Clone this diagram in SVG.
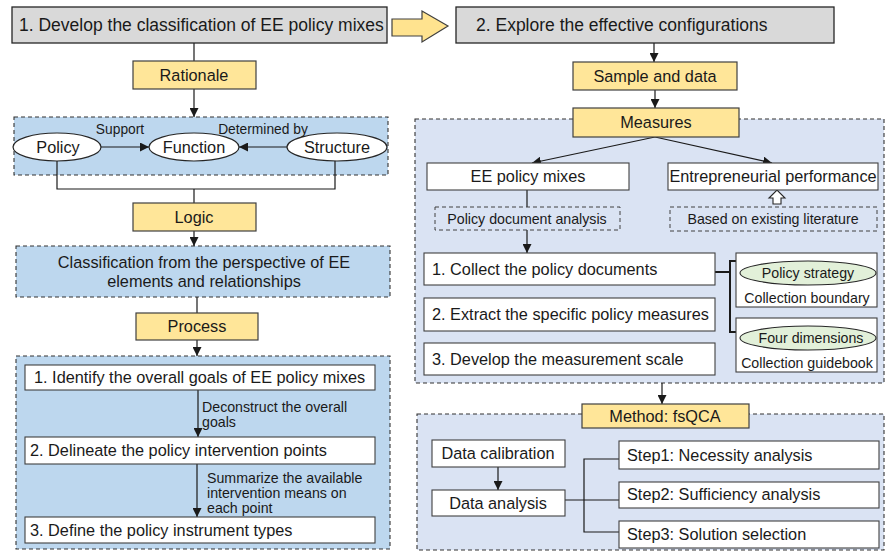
<svg xmlns="http://www.w3.org/2000/svg" width="889" height="552" viewBox="0 0 889 552">
  <defs>
    <style>
      text { font-family: "Liberation Sans", Arial, sans-serif; fill: #1a1a1a; }
      .t17 { font-size: 17.5px; }
      .t16 { font-size: 16.3px; }
      .t14 { font-size: 14.2px; }
      .t13 { font-size: 13.8px; }
      .mid { text-anchor: middle; }
      .gray { fill: #d9d9d9; stroke: #262626; stroke-width: 1.3; }
      .yel { fill: #ffe699; stroke: #404040; stroke-width: 1.2; }
      .white { fill: #ffffff; stroke: #404040; stroke-width: 1.1; }
      .zoneL { fill: #bdd7ee; stroke: #333; stroke-width: 1.1; stroke-dasharray: 4 3; }
      .zoneR { fill: #dae3f3; stroke: #333; stroke-width: 1.1; stroke-dasharray: 4 3; }
      .dash { fill: none; stroke: #404040; stroke-width: 1; stroke-dasharray: 4 3; }
      .ell { fill: #ffffff; stroke: #262626; stroke-width: 1.2; }
      .gell { fill: #e2f0d9; stroke: #262626; stroke-width: 1.1; }
      .ln { fill: none; stroke: #1a1a1a; stroke-width: 1.2; }
      .lnb { fill: none; stroke: #1a1a1a; stroke-width: 2; }
      .arr { fill: none; stroke: #1a1a1a; stroke-width: 1.2; marker-end: url(#ah); }
    </style>
    <marker id="ah" viewBox="0 0 10 10" refX="10" refY="5" markerWidth="9" markerHeight="9" markerUnits="userSpaceOnUse" orient="auto">
      <path d="M0,0 L10,5 L0,10 z" fill="#1a1a1a"/>
    </marker>
  </defs>

  <!-- background zones -->
  <g id="zone-rationale"><rect class="zoneL" x="14" y="117" width="374" height="58"/></g>
  <g id="zone-logic"><rect class="zoneL" x="16" y="246" width="374" height="51"/>
    <text class="t16 mid" x="204" y="268">Classification from the perspective of EE</text>
    <text class="t16 mid" x="204" y="287">elements and relationships</text>
  </g>
  <g id="zone-process"><rect class="zoneL" x="16" y="356" width="374" height="193"/></g>
  <g id="zone-measures"><rect class="zoneR" x="415" y="119" width="469" height="264"/></g>
  <g id="zone-method"><rect class="zoneR" x="417" y="414" width="467" height="136"/></g>

  <!-- connectors -->
  <g id="connectors">
    <line class="ln" x1="194" y1="43" x2="194" y2="61"/>
    <line class="arr" x1="194" y1="89" x2="194" y2="117"/>
    <line class="arr" x1="101" y1="147" x2="149" y2="147"/>
    <line class="arr" x1="287" y1="147" x2="239" y2="147"/>
    <polyline class="ln" points="57,161 57,189 335,189 335,161"/>
    <line class="ln" x1="194" y1="189" x2="194" y2="203"/>
    <line class="arr" x1="194" y1="231" x2="194" y2="246"/>
    <line class="ln" x1="197" y1="297" x2="197" y2="313"/>
    <line class="arr" x1="197" y1="340" x2="197" y2="356"/>
    <line class="arr" x1="198" y1="390" x2="198" y2="437"/>
    <line class="arr" x1="197" y1="464" x2="197" y2="517"/>

    <line class="arr" x1="654" y1="43" x2="654" y2="62"/>
    <line class="arr" x1="655" y1="90" x2="655" y2="108"/>
    <line class="arr" x1="655" y1="137" x2="532" y2="163"/>
    <line class="arr" x1="655" y1="137" x2="772" y2="163"/>
    <line class="ln" x1="527" y1="190" x2="527" y2="207"/>
    <line class="arr" x1="527" y1="230" x2="527" y2="253"/>
    <path d="M773,204 L773,198 L769,198 L777,190 L785,198 L781,198 L781,204 Z" fill="#ffffff" stroke="#262626" stroke-width="1.1"/>
    <polyline class="lnb" points="715,272 730,272"/>
    <polyline class="lnb" points="736,261 730,261 730,332 736,332"/>
    <line class="arr" x1="662" y1="383" x2="662" y2="404"/>
    <line class="arr" x1="498" y1="467" x2="498" y2="490"/>
    <line class="ln" x1="565" y1="500" x2="619" y2="500"/>
    <polyline class="ln" points="619,459 584,459 584,532 619,532"/>
  </g>

  <!-- stage titles -->
  <g id="stage1"><rect class="gray" x="12" y="7" width="375" height="36"/>
    <text class="t17" x="19" y="31">1. Develop the classification of EE policy mixes</text>
  </g>
  <g id="big-arrow">
    <path d="M392,19 L422,19 L422,11 L448,26 L422,42 L422,36 L392,36 Z" fill="#ffe38f" stroke="#404040" stroke-width="1.2"/>
  </g>
  <g id="stage2"><rect class="gray" x="456" y="7" width="378" height="36"/>
    <text class="t17" x="476" y="31">2. Explore the effective configurations</text>
  </g>

  <!-- left column -->
  <g id="rationale"><rect class="yel" x="133" y="61" width="123" height="28"/>
    <text class="t16 mid" x="194" y="81">Rationale</text></g>
  <g id="policy"><ellipse class="ell" cx="57" cy="147" rx="44" ry="14"/>
    <text class="t16 mid" x="58" y="153">Policy</text></g>
  <g id="function"><ellipse class="ell" cx="194" cy="147" rx="45" ry="14"/>
    <text class="t16 mid" x="194" y="153">Function</text></g>
  <g id="structure"><ellipse class="ell" cx="337" cy="147" rx="50" ry="14"/>
    <text class="t16 mid" x="337" y="153">Structure</text></g>
  <text class="t13 mid" x="120" y="134">Support</text>
  <text class="t13 mid" x="263" y="134">Determined by</text>

  <g id="logic"><rect class="yel" x="133" y="203" width="123" height="28"/>
    <text class="t16 mid" x="194" y="223">Logic</text></g>
  <g id="process"><rect class="yel" x="136" y="313" width="122" height="27"/>
    <text class="t16 mid" x="197" y="332">Process</text></g>

  <g id="goals"><rect class="white" x="25" y="365" width="350" height="25"/>
    <text class="t16" x="34" y="383">1. Identify the overall goals of EE policy mixes</text></g>
  <text class="t14" x="202" y="412">Deconstruct the overall</text>
  <text class="t14" x="202" y="427">goals</text>
  <g id="points"><rect class="white" x="25" y="437" width="350" height="27"/>
    <text class="t16" x="30" y="456">2. Delineate the policy intervention points</text></g>
  <text class="t14" x="207" y="483">Summarize the available</text>
  <text class="t14" x="207" y="498">intervention means on</text>
  <text class="t14" x="207" y="513">each point</text>
  <g id="types"><rect class="white" x="25" y="517" width="350" height="26"/>
    <text class="t16" x="30" y="536">3. Define the policy instrument types</text></g>

  <!-- right column -->
  <g id="sample"><rect class="yel" x="573" y="62" width="164" height="28"/>
    <text class="t16 mid" x="655" y="82">Sample and data</text></g>
  <g id="measures"><rect class="yel" x="573" y="108" width="166" height="29"/>
    <text class="t16 mid" x="656" y="128">Measures</text></g>
  <g id="ee-mixes"><rect class="white" x="427" y="163" width="202" height="27"/>
    <text class="t16 mid" x="528" y="182">EE policy mixes</text></g>
  <g id="performance"><rect class="white" x="668" y="163" width="210" height="27"/>
    <text class="t16 mid" x="773" y="182">Entrepreneurial performance</text></g>
  <g id="doc-analysis"><rect class="dash" x="435" y="207" width="185" height="23"/>
    <text class="t14 mid" x="527" y="224">Policy document analysis</text></g>
  <g id="literature"><rect class="dash" x="670" y="207" width="207" height="24"/>
    <text class="t14 mid" x="773" y="224">Based on existing literature</text></g>
  <g id="collect"><rect class="white" x="424" y="253" width="291" height="32"/>
    <text class="t16" x="432" y="275">1. Collect the policy documents</text></g>
  <g id="extract"><rect class="white" x="424" y="298" width="291" height="33"/>
    <text class="t16" x="432" y="320">2. Extract the specific policy measures</text></g>
  <g id="scale"><rect class="white" x="424" y="343" width="291" height="32"/>
    <text class="t16" x="432" y="365">3. Develop the measurement scale</text></g>
  <g id="boundary"><rect class="white" x="736" y="253" width="141" height="54"/>
    <ellipse class="gell" cx="808" cy="273" rx="68" ry="12"/>
    <text class="t14 mid" x="808" y="278">Policy strategy</text>
    <text class="t14 mid" x="807" y="303">Collection boundary</text></g>
  <g id="guidebook"><rect class="white" x="736" y="318" width="141" height="54"/>
    <ellipse class="gell" cx="808" cy="338" rx="68" ry="12"/>
    <text class="t14 mid" x="811" y="343">Four dimensions</text>
    <text class="t14 mid" x="807" y="368">Collection guidebook</text></g>

  <g id="method"><rect class="yel" x="582" y="404" width="167" height="24"/>
    <text class="t16 mid" x="665" y="422">Method: fsQCA</text></g>
  <g id="calibration"><rect class="white" x="432" y="440" width="133" height="27"/>
    <text class="t16 mid" x="498" y="459">Data calibration</text></g>
  <g id="analysis"><rect class="white" x="432" y="490" width="133" height="26"/>
    <text class="t16 mid" x="498" y="509">Data analysis</text></g>
  <g id="step1"><rect class="white" x="619" y="441" width="260" height="28"/>
    <text class="t16" x="627" y="461">Step1: Necessity analysis</text></g>
  <g id="step2"><rect class="white" x="619" y="482" width="260" height="26"/>
    <text class="t16" x="627" y="500">Step2: Sufficiency analysis</text></g>
  <g id="step3"><rect class="white" x="619" y="521" width="260" height="27"/>
    <text class="t16" x="627" y="540">Step3: Solution selection</text></g>
</svg>
